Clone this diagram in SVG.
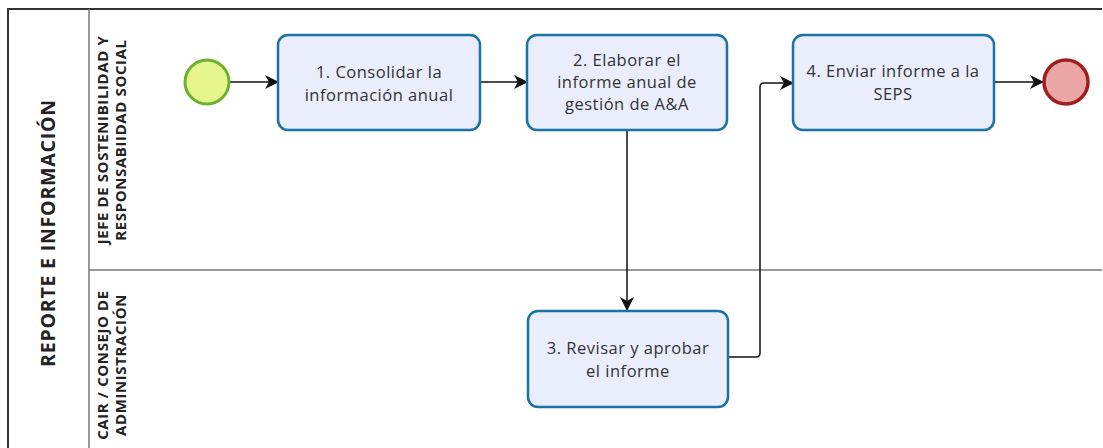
<svg xmlns="http://www.w3.org/2000/svg" width="1103" height="448" viewBox="0 0 1103 448">
<style>
.pool{fill:#fff;stroke:#333;stroke-width:2}
.lane{fill:none;stroke:#777;stroke-width:1.5}
.task rect{fill:#e9edfc;stroke:#1b72a4;stroke-width:2.5}
.task text{font-family:"Open Sans","Noto Sans",sans-serif;font-size:16.5px;letter-spacing:0.5px;fill:#333;text-anchor:middle}
.lbl{font-family:"Open Sans","Noto Sans",sans-serif;font-weight:bold;fill:#222;text-anchor:middle}
.conn{fill:none;stroke:#111;stroke-width:1.5}
</style>
<defs>
<marker id="arr" viewBox="0 0 14 14" refX="13" refY="7" markerWidth="14" markerHeight="14" markerUnits="userSpaceOnUse" orient="auto">
<path d="M0,0 L14,7 L0,14 L4,7 Z" fill="#111"/>
</marker>
</defs>
<rect width="1103" height="448" fill="#fff"/>
<g id="pool">
<path class="pool" d="M8,460 V9 H1102"/>
<text class="lbl" font-size="19.5" letter-spacing="0.8" transform="translate(55,233) rotate(-90)">REPORTE E INFORMACIÓN</text>
</g>
<g id="lane1">
<path class="lane" d="M89,9 V460"/>
<text class="lbl" font-size="15" letter-spacing="0.6" transform="translate(108,140) rotate(-90)">JEFE DE SOSTENIBILIDAD Y</text>
<text class="lbl" font-size="15" letter-spacing="0.6" transform="translate(126,140) rotate(-90)">RESPONSABIIDAD SOCIAL</text>
</g>
<g id="lane2">
<path class="lane" d="M89,270 H1102"/>
<text class="lbl" font-size="15" letter-spacing="0.6" transform="translate(108,365) rotate(-90)">CAIR / CONSEJO DE</text>
<text class="lbl" font-size="15" letter-spacing="0.6" transform="translate(126,365) rotate(-90)">ADMINISTRACIÓN</text>
</g>
<g id="connectors">
<path class="conn" d="M230,82 H278" marker-end="url(#arr)"/>
<path class="conn" d="M480,82 H527" marker-end="url(#arr)"/>
<path class="conn" d="M627,130 V310" marker-end="url(#arr)"/>
<path class="conn" d="M729,357 H756 Q760,357 760,353 V87 Q760,83 764,83 H793" marker-end="url(#arr)"/>
<path class="conn" d="M994,82 H1043" marker-end="url(#arr)"/>
</g>
<g id="start">
<circle cx="207" cy="82" r="22" fill="#e6f58c" stroke="#6bb12d" stroke-width="3"/>
</g>
<g id="task1" class="task">
<rect x="278" y="35" width="202" height="95" rx="10"/>
<text x="379" y="78">1. Consolidar la</text>
<text x="379" y="101">información anual</text>
</g>
<g id="task2" class="task">
<rect x="527" y="35" width="200" height="95" rx="10"/>
<text x="627" y="66">2. Elaborar el</text>
<text x="627" y="88">informe anual de</text>
<text x="627" y="110">gestión de A&amp;A</text>
</g>
<g id="task3" class="task">
<rect x="528" y="311" width="200" height="96" rx="10"/>
<text x="628" y="354">3. Revisar y aprobar</text>
<text x="628" y="377">el informe</text>
</g>
<g id="task4" class="task">
<rect x="793" y="35" width="201" height="95" rx="10"/>
<text x="893" y="77">4. Enviar informe a la</text>
<text x="893" y="100">SEPS</text>
</g>
<g id="end">
<circle cx="1066" cy="82" r="22" fill="#eba5a5" stroke="#a11d1d" stroke-width="3.5"/>
</g>
</svg>
